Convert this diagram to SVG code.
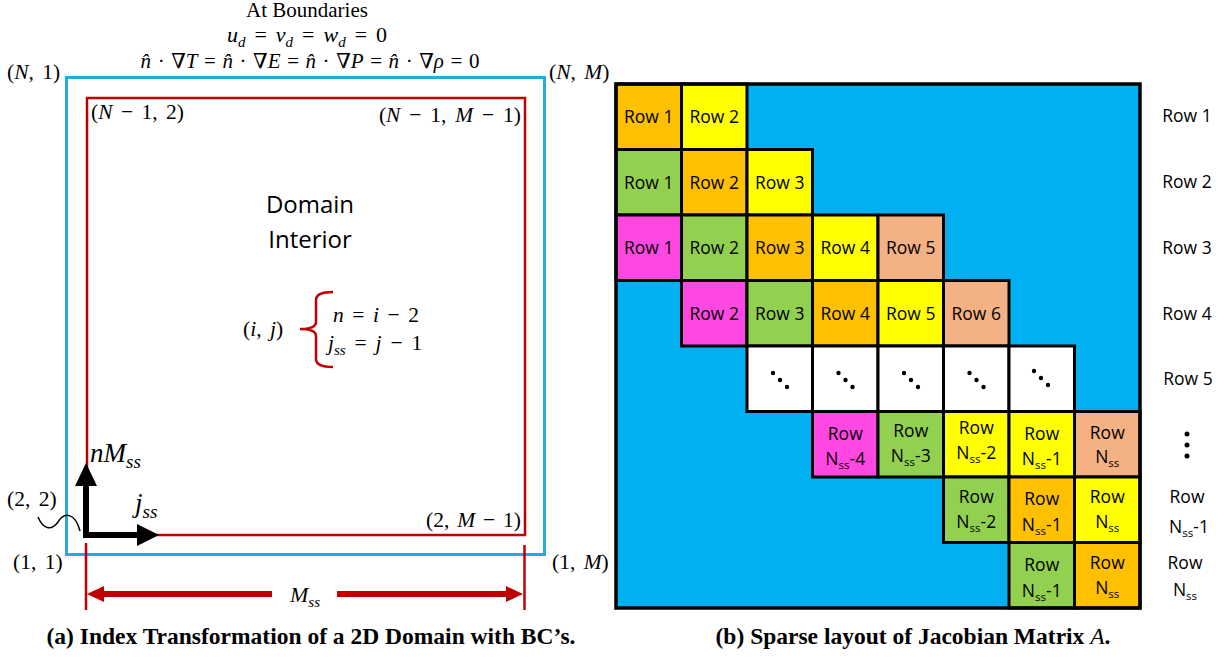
<svg xmlns="http://www.w3.org/2000/svg" width="1226" height="659" viewBox="0 0 1226 659">
  <defs>
    <style>
      .math{font-family:"Liberation Serif","DejaVu Serif",serif;font-size:21.5px;fill:#000}
      .coord{word-spacing:3px}
      .it{font-style:italic}
      .sb{font-size:15px;font-style:italic}
      .cap{font-family:"Liberation Serif","Times New Roman",serif;font-weight:bold;font-size:23.5px;text-anchor:middle}
      .sans{font-family:"Open Sans","Liberation Sans",sans-serif;fill:#000}
      .lbl{font-family:"Open Sans","Liberation Sans",sans-serif;font-size:17.5px;text-anchor:middle;fill:#000}
      .ss{font-size:11.5px}
      .cell{stroke:#000;stroke-width:3}
      .org{fill:#FFC000}.yel{fill:#FFFF00}.grn{fill:#92D050}.mag{fill:#FF47E2}.sal{fill:#F4B183}.wht{fill:#FFFFFF}
      .red{stroke:#C00000;fill:none}
    </style>
  </defs>
  <rect width="1226" height="659" fill="#fff"/>

  <!-- Left panel: boundary conditions header -->
  <g id="bc-header">
    <text class="math" x="307" y="17" text-anchor="middle" style="font-size:21px">At Boundaries</text>
    <text class="math" x="307" y="42" text-anchor="middle" style="font-size:22px;word-spacing:3.5px"><tspan class="it">u</tspan><tspan class="sb" dy="5">d</tspan><tspan dy="-5"> = </tspan><tspan class="it">v</tspan><tspan class="sb" dy="5">d</tspan><tspan dy="-5"> = </tspan><tspan class="it">w</tspan><tspan class="sb" dy="5">d</tspan><tspan dy="-5"> = 0</tspan></text>
    <text class="math" x="310" y="68" text-anchor="middle" style="font-size:21px;word-spacing:1.3px"><tspan class="it">n&#770;</tspan> · ∇<tspan class="it">T</tspan> = <tspan class="it">n&#770;</tspan> · ∇<tspan class="it">E</tspan> = <tspan class="it">n&#770;</tspan> · ∇<tspan class="it">P</tspan> = <tspan class="it">n&#770;</tspan> · ∇<tspan class="it">ρ</tspan> = 0</text>
  </g>

  <!-- Outer boundary (ghost layer) -->
  <g id="boundary">
    <rect x="66.5" y="77.5" width="478" height="477" fill="none" stroke="#25AAE1" stroke-width="3"/>
    <text class="math coord" x="7" y="79">(<tspan class="it">N</tspan>, 1)</text>
    <text class="math coord" x="549" y="79">(<tspan class="it">N</tspan>, <tspan class="it">M</tspan>)</text>
    <text class="math coord" x="13" y="569">(1, 1)</text>
    <text class="math coord" x="552" y="569">(1, <tspan class="it">M</tspan>)</text>
  </g>

  <!-- Interior domain -->
  <g id="interior">
    <rect x="87" y="98" width="438" height="437" class="red" stroke-width="2.5"/>
    <text class="math coord" x="91" y="119">(<tspan class="it">N</tspan> − 1, 2)</text>
    <text class="math coord" x="521" y="122" text-anchor="end" style="word-spacing:3.5px">(<tspan class="it">N</tspan> − 1, <tspan class="it">M</tspan> − 1)</text>
    <text class="math coord" x="521" y="527" text-anchor="end" style="word-spacing:2.5px">(2, <tspan class="it">M</tspan> − 1)</text>
    <text class="math coord" x="7" y="506">(2, 2)</text>
    <text class="sans" x="310" y="213" text-anchor="middle" font-size="24">Domain</text>
    <text class="sans" x="310" y="248" text-anchor="middle" font-size="24">Interior</text>
  </g>

  <!-- Index mapping -->
  <g id="index-map">
    <text class="math coord" x="243" y="336">(<tspan class="it">i</tspan>, <tspan class="it">j</tspan>)</text>
    <text class="math" x="333" y="322" style="word-spacing:3.2px"><tspan class="it">n</tspan> = <tspan class="it">i</tspan> − 2</text>
    <text class="math" x="328" y="350" style="word-spacing:3.5px"><tspan class="it">j</tspan><tspan class="sb" dy="5">ss</tspan><tspan dy="-5"> = </tspan><tspan class="it">j</tspan> − 1</text>
    <path class="red" stroke-width="2.5" d="M333,292 Q316,292 316,300 L316,322 Q316,329 300,329 Q316,329 316,336 L316,359 Q316,367 333,367"/>
  </g>

  <!-- Local axes labels -->
  <g id="axes">
    <text class="math" x="90" y="462" style="font-size:27px"><tspan class="it">nM</tspan><tspan class="sb" style="font-size:19px" dy="6">ss</tspan></text>
    <text class="math" x="135" y="512" style="font-size:27px"><tspan class="it">j</tspan><tspan class="sb" style="font-size:19px" dy="6">ss</tspan></text>
  </g>

  <!-- Width dimension label -->
  <g id="width-dim">
    <text class="math" x="305" y="602" text-anchor="middle" style="font-size:22px"><tspan class="it">M</tspan><tspan class="sb" dy="5">ss</tspan></text>
  </g>

  <!-- Connectors: axes arrows, pointer squiggle, dimension line -->
  <g id="connectors">
    <path d="M86,538 V484" stroke="#000" stroke-width="6" fill="none"/>
    <polygon points="75,486 97,486 86,463" fill="#000"/>
    <path d="M83,535 H138" stroke="#000" stroke-width="6" fill="none"/>
    <polygon points="137,524 137,546 159,535" fill="#000"/>
    <path d="M38,517 C44,531 52,530 58,522 C64,512 75,512 80,531" fill="none" stroke="#000" stroke-width="1.5"/>
    <path class="red" stroke-width="2.5" d="M86,543 V610 M524.5,545 V610"/>
    <path class="red" stroke-width="6" d="M100,594 H272 M337,594 H510"/>
    <polygon points="87,594 104,586 104,602" fill="#C00000"/>
    <polygon points="523,594 506,586 506,602" fill="#C00000"/>
  </g>

  <text class="cap" x="311" y="644">(a) Index Transformation of a 2D Domain with BC’s.</text>

  <!-- Right panel: sparse block layout -->
  <g id="matrix">
    <rect x="616" y="84" width="524" height="524" fill="#00B0F0"/>
    <g id="row-1">
      <rect class="cell org" x="616" y="84" width="65.5" height="65.5"/>
      <rect class="cell yel" x="681.5" y="84" width="65.5" height="65.5"/>
      <text class="lbl" x="648.75" y="123">Row 1</text>
      <text class="lbl" x="714.25" y="123">Row 2</text>
    </g>
    <g id="row-2">
      <rect class="cell grn" x="616" y="149.5" width="65.5" height="65.5"/>
      <rect class="cell org" x="681.5" y="149.5" width="65.5" height="65.5"/>
      <rect class="cell yel" x="747" y="149.5" width="65.5" height="65.5"/>
      <text class="lbl" x="648.75" y="188.5">Row 1</text>
      <text class="lbl" x="714.25" y="188.5">Row 2</text>
      <text class="lbl" x="779.75" y="188.5">Row 3</text>
    </g>
    <g id="row-3">
      <rect class="cell mag" x="616" y="215" width="65.5" height="65.5"/>
      <rect class="cell grn" x="681.5" y="215" width="65.5" height="65.5"/>
      <rect class="cell org" x="747" y="215" width="65.5" height="65.5"/>
      <rect class="cell yel" x="812.5" y="215" width="65.5" height="65.5"/>
      <rect class="cell sal" x="878" y="215" width="65.5" height="65.5"/>
      <text class="lbl" x="648.75" y="254">Row 1</text>
      <text class="lbl" x="714.25" y="254">Row 2</text>
      <text class="lbl" x="779.75" y="254">Row 3</text>
      <text class="lbl" x="845.25" y="254">Row 4</text>
      <text class="lbl" x="910.75" y="254">Row 5</text>
    </g>
    <g id="row-4">
      <rect class="cell mag" x="681.5" y="280.5" width="65.5" height="65.5"/>
      <rect class="cell grn" x="747" y="280.5" width="65.5" height="65.5"/>
      <rect class="cell org" x="812.5" y="280.5" width="65.5" height="65.5"/>
      <rect class="cell yel" x="878" y="280.5" width="65.5" height="65.5"/>
      <rect class="cell sal" x="943.5" y="280.5" width="65.5" height="65.5"/>
      <text class="lbl" x="714.25" y="319.5">Row 2</text>
      <text class="lbl" x="779.75" y="319.5">Row 3</text>
      <text class="lbl" x="845.25" y="319.5">Row 4</text>
      <text class="lbl" x="910.75" y="319.5">Row 5</text>
      <text class="lbl" x="976.25" y="319.5">Row 6</text>
    </g>
    <g id="row-5">
      <rect class="cell wht" x="747" y="346" width="65.5" height="65.5"/>
      <rect class="cell wht" x="812.5" y="346" width="65.5" height="65.5"/>
      <rect class="cell wht" x="878" y="346" width="65.5" height="65.5"/>
      <rect class="cell wht" x="943.5" y="346" width="65.5" height="65.5"/>
      <rect class="cell wht" x="1009" y="346" width="65.5" height="65.5"/>
      <g fill="#000">
        <circle cx="773" cy="373" r="2.2"/><circle cx="780" cy="380" r="2.2"/><circle cx="787" cy="387" r="2.2"/>
        <circle cx="838.5" cy="373" r="2.2"/><circle cx="845.5" cy="380" r="2.2"/><circle cx="852.5" cy="387" r="2.2"/>
        <circle cx="904" cy="373" r="2.2"/><circle cx="911" cy="380" r="2.2"/><circle cx="918" cy="387" r="2.2"/>
        <circle cx="969.5" cy="373" r="2.2"/><circle cx="976.5" cy="380" r="2.2"/><circle cx="983.5" cy="387" r="2.2"/>
        <circle cx="1034" cy="371" r="2.2"/><circle cx="1041" cy="378" r="2.2"/><circle cx="1048" cy="385" r="2.2"/>
      </g>
    </g>
    <g id="row-nss-4">
      <rect class="cell mag" x="812.5" y="411.5" width="65.5" height="65.5"/>
      <rect class="cell grn" x="878" y="411.5" width="65.5" height="65.5"/>
      <rect class="cell yel" x="943.5" y="411.5" width="65.5" height="65.5"/>
      <rect class="cell yel" x="1009" y="411.5" width="65.5" height="65.5"/>
      <rect class="cell sal" x="1074.5" y="411.5" width="65.5" height="65.5"/>
      <text class="lbl" x="845.25" y="440">Row</text>
      <text class="lbl" x="845.25" y="465">N<tspan class="ss" dy="4">ss</tspan><tspan dy="-4">-4</tspan></text>
      <text class="lbl" x="910.75" y="437">Row</text>
      <text class="lbl" x="910.75" y="462">N<tspan class="ss" dy="4">ss</tspan><tspan dy="-4">-3</tspan></text>
      <text class="lbl" x="976.25" y="434">Row</text>
      <text class="lbl" x="976.25" y="459">N<tspan class="ss" dy="4">ss</tspan><tspan dy="-4">-2</tspan></text>
      <text class="lbl" x="1041.75" y="440">Row</text>
      <text class="lbl" x="1041.75" y="465">N<tspan class="ss" dy="4">ss</tspan><tspan dy="-4">-1</tspan></text>
      <text class="lbl" x="1107.25" y="439">Row</text>
      <text class="lbl" x="1107.25" y="463">N<tspan class="ss" dy="4">ss</tspan></text>
    </g>
    <g id="row-nss-1">
      <rect class="cell grn" x="943.5" y="477" width="65.5" height="65.5"/>
      <rect class="cell org" x="1009" y="477" width="65.5" height="65.5"/>
      <rect class="cell yel" x="1074.5" y="477" width="65.5" height="65.5"/>
      <text class="lbl" x="976.25" y="503">Row</text>
      <text class="lbl" x="976.25" y="528">N<tspan class="ss" dy="4">ss</tspan><tspan dy="-4">-2</tspan></text>
      <text class="lbl" x="1041.75" y="505">Row</text>
      <text class="lbl" x="1041.75" y="531">N<tspan class="ss" dy="4">ss</tspan><tspan dy="-4">-1</tspan></text>
      <text class="lbl" x="1107.25" y="503">Row</text>
      <text class="lbl" x="1107.25" y="528">N<tspan class="ss" dy="4">ss</tspan></text>
    </g>
    <g id="row-nss">
      <rect class="cell grn" x="1009" y="542.5" width="65.5" height="65.5"/>
      <rect class="cell org" x="1074.5" y="542.5" width="65.5" height="65.5"/>
      <text class="lbl" x="1041.75" y="571">Row</text>
      <text class="lbl" x="1041.75" y="597">N<tspan class="ss" dy="4">ss</tspan><tspan dy="-4">-1</tspan></text>
      <text class="lbl" x="1107.25" y="569">Row</text>
      <text class="lbl" x="1107.25" y="594">N<tspan class="ss" dy="4">ss</tspan></text>
    </g>
    <rect x="616" y="84" width="524" height="524" fill="none" stroke="#000" stroke-width="3.5"/>
  </g>

  <!-- Row index labels -->
  <g id="row-labels">
    <text class="lbl" x="1187" y="122">Row 1</text>
    <text class="lbl" x="1187" y="188">Row 2</text>
    <text class="lbl" x="1187" y="254">Row 3</text>
    <text class="lbl" x="1187" y="320">Row 4</text>
    <text class="lbl" x="1188" y="385">Row 5</text>
    <circle cx="1187" cy="434" r="2.5"/><circle cx="1187" cy="445" r="2.5"/><circle cx="1187" cy="456" r="2.5"/>
    <text class="lbl" x="1187" y="503">Row</text>
    <text class="lbl" x="1189" y="533">N<tspan class="ss" dy="4">ss</tspan><tspan dy="-4">-1</tspan></text>
    <text class="lbl" x="1185" y="569">Row</text>
    <text class="lbl" x="1185" y="596">N<tspan class="ss" dy="4">ss</tspan></text>
  </g>

  <text class="cap" x="913" y="644">(b) Sparse layout of Jacobian Matrix <tspan font-style="italic" font-weight="normal">A</tspan>.</text>
</svg>
